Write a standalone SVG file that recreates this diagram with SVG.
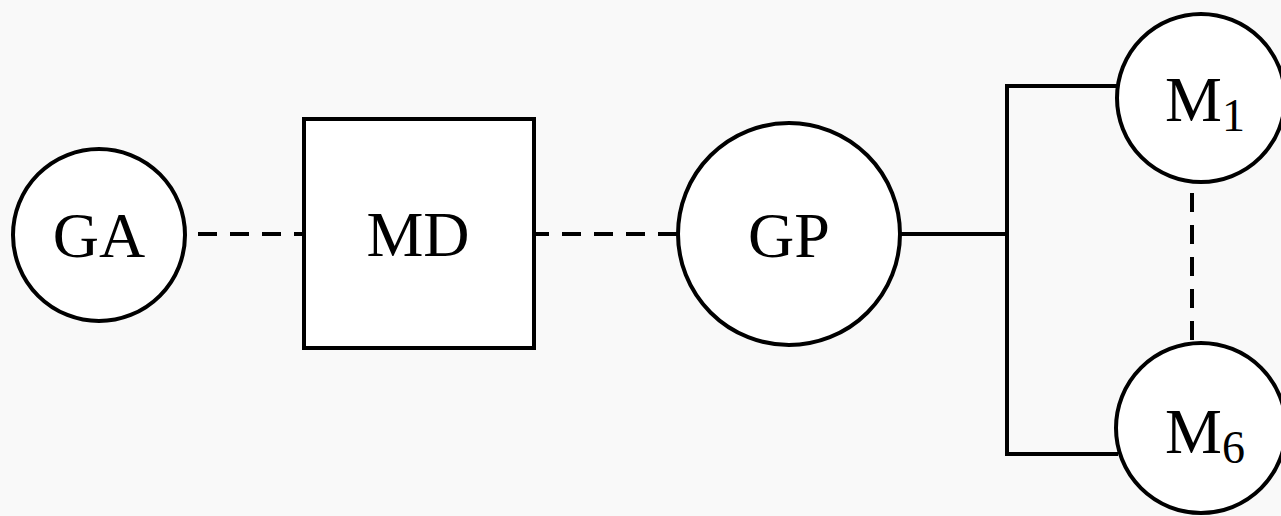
<svg xmlns="http://www.w3.org/2000/svg" width="1281" height="516" viewBox="0 0 1281 516">
<style>
.node{fill:#ffffff;stroke:#000000;stroke-width:4}
.lbl{font-family:"Liberation Serif","Times New Roman",serif;font-size:64px;fill:#000000;text-anchor:middle}
.sub{font-size:46px}
.solid{fill:none;stroke:#000000;stroke-width:4}
.dash{fill:none;stroke:#000000;stroke-width:4;stroke-dasharray:19 13}
</style>
<rect x="0" y="0" width="1281" height="516" fill="#f9f9f9"/>
<g id="connectors">
<line class="dash" x1="198" y1="234" x2="305" y2="234"/>
<line class="dash" x1="530" y1="234" x2="677" y2="234"/>
<line class="solid" x1="900" y1="234" x2="1007" y2="234"/>
<polyline class="solid" points="1118,86 1007,86 1007,454 1118,454"/>
<line class="dash" x1="1192" y1="193" x2="1192" y2="343"/>
</g>
<g id="GA">
<circle class="node" cx="99" cy="235" r="86"/>
<text class="lbl" x="99" y="257">GA</text>
</g>
<g id="MD">
<rect class="node" x="304" y="119" width="230" height="229"/>
<text class="lbl" x="418" y="256">MD</text>
</g>
<g id="GP">
<circle class="node" cx="789" cy="234" r="111"/>
<text class="lbl" x="789" y="257">GP</text>
</g>
<g id="M1">
<circle class="node" cx="1201" cy="98" r="84"/>
<text class="lbl" x="1205" y="121">M<tspan class="sub" dy="10">1</tspan></text>
</g>
<g id="M6">
<circle class="node" cx="1201" cy="428" r="85"/>
<text class="lbl" x="1205" y="453">M<tspan class="sub" dy="10">6</tspan></text>
</g>
</svg>
